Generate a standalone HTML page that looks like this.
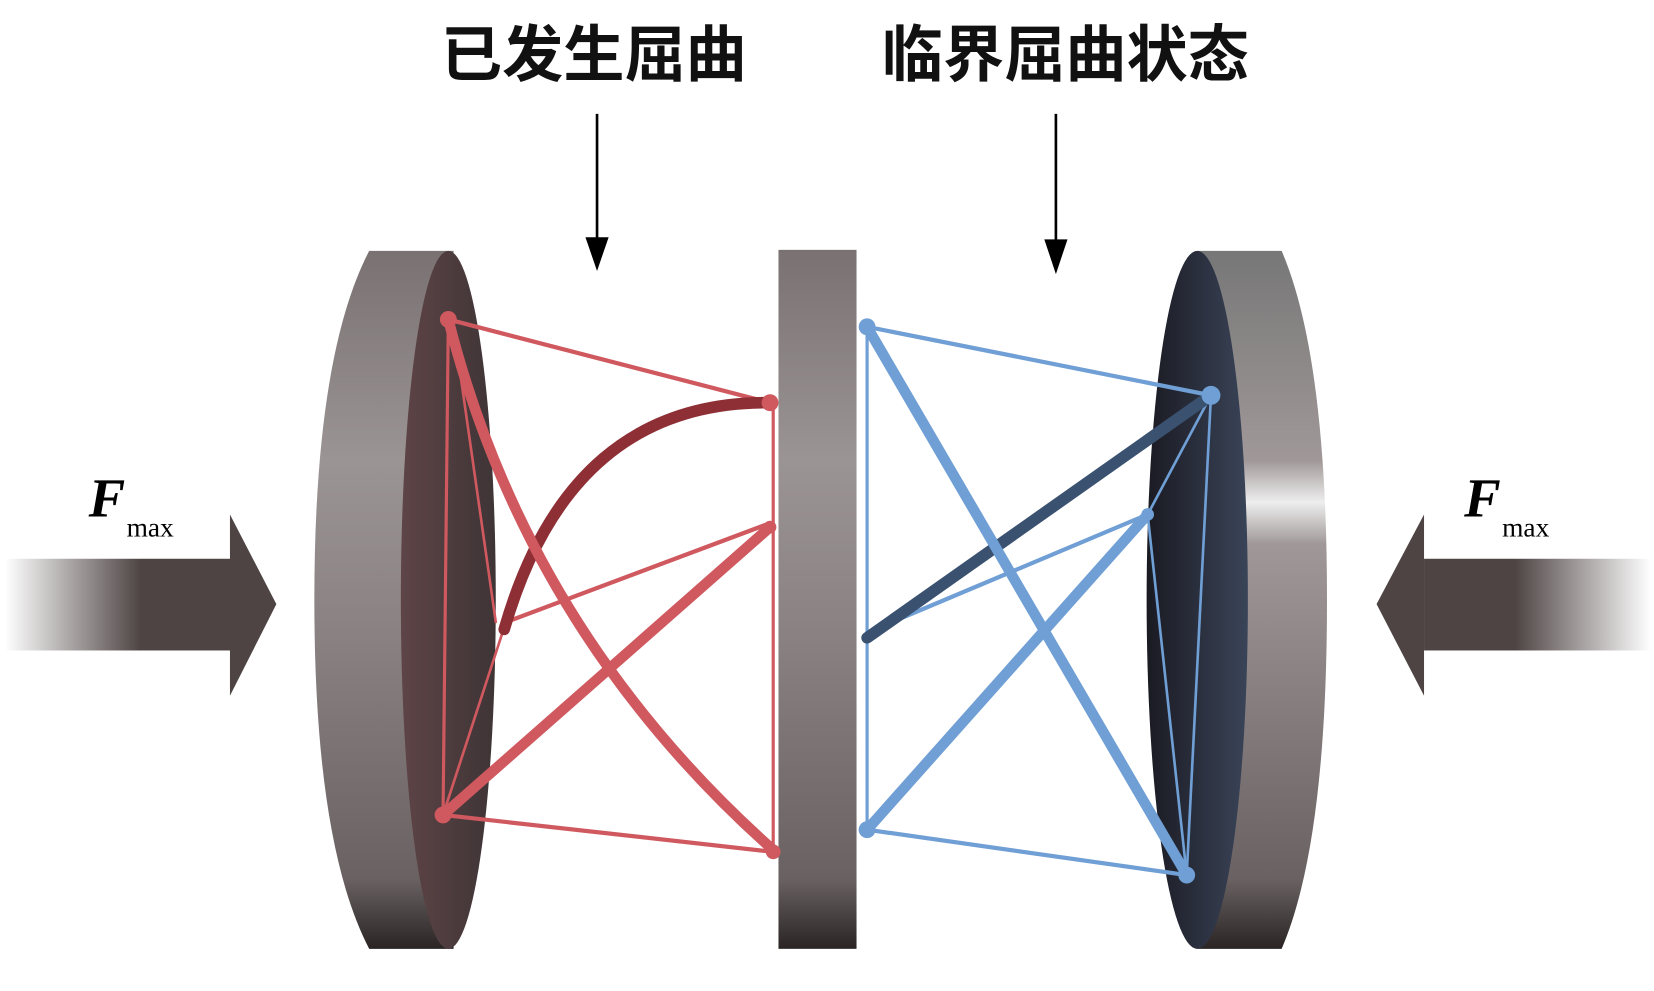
<!DOCTYPE html>
<html><head><meta charset="utf-8"><style>
html,body{margin:0;padding:0;background:#fff;width:1654px;height:991px;overflow:hidden}
svg{display:block}
</style></head><body>
<svg width="1654" height="991" viewBox="0 0 1568 940" preserveAspectRatio="none" xmlns="http://www.w3.org/2000/svg">
<defs>
<linearGradient id="barL" x1="0" x2="1"><stop offset="0" stop-color="#fff"/><stop offset="0.6" stop-color="#4e4444"/><stop offset="1" stop-color="#4e4444"/></linearGradient>
<linearGradient id="barR" x1="1" x2="0"><stop offset="0" stop-color="#fff"/><stop offset="0.6" stop-color="#4e4444"/><stop offset="1" stop-color="#4e4444"/></linearGradient>
<linearGradient id="rimV" x1="0" y1="0" x2="0" y2="1"><stop offset="0" stop-color="#7a7272"/><stop offset="0.3" stop-color="#9b9494"/><stop offset="0.55" stop-color="#8a8282"/><stop offset="0.9" stop-color="#6a6262"/><stop offset="1" stop-color="#2a2424"/></linearGradient>
<linearGradient id="rimR" x1="0" y1="0" x2="0" y2="1"><stop offset="0" stop-color="#777"/><stop offset="0.3" stop-color="#a09898"/><stop offset="0.36" stop-color="#eee"/><stop offset="0.42" stop-color="#a09898"/><stop offset="0.9" stop-color="#6a6262"/><stop offset="1" stop-color="#2a2424"/></linearGradient>
<linearGradient id="faceL" x1="0" x2="1"><stop offset="0" stop-color="#5e4446"/><stop offset="1" stop-color="#3e3436"/></linearGradient>
<linearGradient id="faceR" x1="0" x2="1"><stop offset="0" stop-color="#1a1a22"/><stop offset="1" stop-color="#3a4458"/></linearGradient>
</defs>
<text x="563" y="72" font-family="Liberation Sans, Noto Sans CJK SC, sans-serif" font-size="58" font-weight="bold" text-anchor="middle" fill="#111">已发生屈曲</text>
<text x="1010" y="72" font-family="Liberation Sans, Noto Sans CJK SC, sans-serif" font-size="58" font-weight="bold" text-anchor="middle" fill="#111">临界屈曲状态</text>
<line x1="566" y1="108" x2="566" y2="240" stroke="#000" stroke-width="2.5"/>
<polygon points="555,225 577,225 566,257" fill="#000"/>
<line x1="1001" y1="108" x2="1001" y2="242" stroke="#000" stroke-width="2.5"/>
<polygon points="990,227 1012,227 1001,260" fill="#000"/>
<rect x="5" y="530" width="214" height="87" fill="url(#barL)"/>
<polygon points="218,488 262,573 218,660" fill="#4e4444"/>
<rect x="1350" y="530" width="215" height="87" fill="url(#barR)"/>
<polygon points="1350,488 1305,573 1350,660" fill="#4e4444"/>
<g font-family="Liberation Serif, serif" fill="#000">
<text x="84" y="490" font-size="52" font-style="italic" font-weight="bold">F</text>
<text x="120" y="509" font-size="26">max</text>
<text x="1388" y="490" font-size="52" font-style="italic" font-weight="bold">F</text>
<text x="1424" y="509" font-size="26">max</text>
</g>
<path d="M350,238 L430,238 L430,900 L350,900 Q298,800 298,569 Q298,338 350,238 Z" fill="url(#rimV)"/>
<ellipse cx="425" cy="569" rx="45" ry="331" fill="url(#faceL)"/>
<rect x="738" y="237" width="74" height="663" fill="url(#rimV)"/>
<path d="M1135,238 L1215,238 Q1258,338 1258,569 Q1258,800 1215,900 L1135,900 Z" fill="url(#rimR)"/>
<ellipse cx="1135" cy="569" rx="48" ry="331" fill="url(#faceR)"/>
<g stroke="#d0595f" fill="none" stroke-linecap="round">
<line x1="425" y1="303" x2="730" y2="382" stroke-width="4"/>
<line x1="420" y1="773" x2="733" y2="808" stroke-width="4"/>
<line x1="480" y1="590" x2="728" y2="497" stroke-width="4"/>
<line x1="425" y1="303" x2="420" y2="773" stroke-width="3"/>
<line x1="733" y1="382" x2="733" y2="808" stroke-width="3"/>
<line x1="430" y1="310" x2="470" y2="590" stroke-width="2.5"/>
<line x1="420" y1="773" x2="478" y2="595" stroke-width="2.5"/>
<path d="M478,597 Q540,380 730,382" stroke="#8e2f35" stroke-width="11"/>
<path d="M425,303 Q500,600 735,808" stroke-width="10"/>
<line x1="420" y1="773" x2="730" y2="500" stroke-width="10"/>
</g>
<g fill="#d0595f"><circle cx="425" cy="303" r="8"/><circle cx="730" cy="382" r="8"/><circle cx="420" cy="773" r="8"/><circle cx="733" cy="808" r="7"/><circle cx="730" cy="500" r="6"/></g>
<g stroke="#6f9fd4" fill="none" stroke-linecap="round">
<line x1="822" y1="310" x2="1148" y2="375" stroke-width="4"/>
<line x1="822" y1="787" x2="1125" y2="830" stroke-width="4"/>
<line x1="822" y1="600" x2="1088" y2="488" stroke-width="4"/>
<line x1="822" y1="310" x2="822" y2="787" stroke-width="3"/>
<line x1="1148" y1="375" x2="1125" y2="830" stroke-width="2.5"/>
<line x1="1088" y1="488" x2="1125" y2="830" stroke-width="2.5"/>
<line x1="1148" y1="375" x2="1088" y2="488" stroke-width="2.5"/>
<line x1="822" y1="605" x2="1148" y2="375" stroke="#3a5170" stroke-width="11"/>
<line x1="822" y1="310" x2="1125" y2="830" stroke-width="10"/>
<line x1="822" y1="787" x2="1088" y2="488" stroke-width="10"/>
</g>
<g fill="#6f9fd4"><circle cx="822" cy="310" r="8"/><circle cx="1148" cy="375" r="9"/><circle cx="822" cy="787" r="8"/><circle cx="1125" cy="830" r="8"/><circle cx="1088" cy="488" r="6"/></g>
</svg>
</body></html>
